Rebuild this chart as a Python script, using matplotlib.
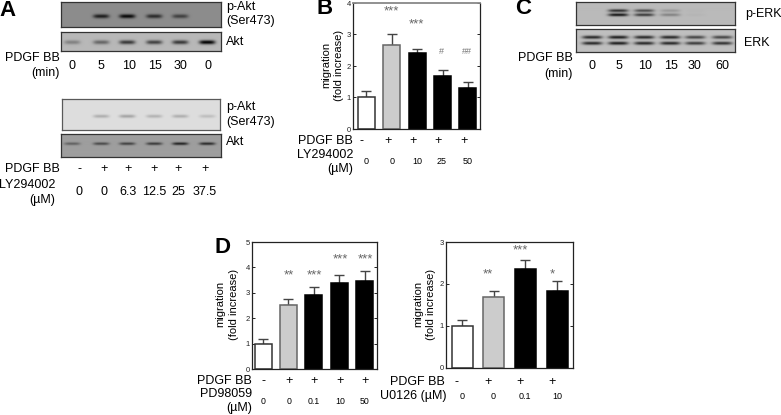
import numpy as np
import matplotlib
matplotlib.use("Agg")
import matplotlib.pyplot as plt

plt.rcParams['font.family'] = ['Liberation Sans', 'DejaVu Sans']

W, H = 781, 415

# ---- bar data ----
b_means = [1.0, 2.67, 2.42, 1.69, 1.30]
b_errs = [0.20, 0.35, 0.13, 0.17, 0.20]
b_ticks = [0, 1, 2, 3, 4]
b_signs = ['-', '+', '+', '+', '+']
b_doses = ['0', '0', '10', '25', '50']
b_stars = ['', '***', '***', '#', '##']

d1_means = [1.0, 2.52, 2.93, 3.40, 3.46]
d1_errs = [0.17, 0.23, 0.30, 0.30, 0.39]
d1_ticks = [0, 1, 2, 3, 4, 5]
d1_signs = ['-', '+', '+', '+', '+']
d1_doses = ['0', '0', '0.1', '10', '50']
d1_stars = ['', '**', '***', '***', '***']

d2_means = [1.0, 1.68, 2.36, 1.83]
d2_errs = [0.14, 0.16, 0.22, 0.23]
d2_ticks = [0, 1, 2, 3]
d2_signs = ['-', '+', '+', '+']
d2_doses = ['0', '0', '0.1', '10']
d2_stars = ['', '**', '***', '*']

# ---- blot band strengths, one per lane ----
akt_time_p = [0.0, 0.8, 0.95, 0.7, 0.55, 0.0]
akt_time_total = [0.3, 0.45, 0.7, 0.65, 0.7, 1.0]
akt_dose_p = [0.0, 0.22, 0.27, 0.2, 0.22, 0.15]
akt_dose_total = [0.4, 0.55, 0.6, 0.65, 0.8, 0.75]
erk_p_upper = [0.0, 0.75, 0.6, 0.18, 0.02, 0.0]
erk_p_lower = [0.0, 0.9, 0.7, 0.3, 0.03, 0.0]
erk_upper = [0.8, 0.85, 0.8, 0.8, 0.65, 0.65]
erk_lower = [0.8, 0.85, 0.8, 0.8, 0.7, 0.75]

time_labels = ['0', '5', '10', '15', '30', '0']
dose_signs = ['-', '+', '+', '+', '+', '+']
dose_labels = ['0', '0', '6.3', '12.5', '25', '37.5']
erk_labels = ['0', '5', '10', '15', '30', '60']

fig = plt.figure(figsize=(W / 100, H / 100), dpi=100, facecolor='white')


def box(x0, y0, x1, y1):
    return fig.add_axes([x0 / W, 1 - y1 / H, (x1 - x0) / W, (y1 - y0) / H])


def label(x, y, s, size=9.0, ha='center', **kw):
    fig.text(x / W, 1 - y / H, s, fontsize=size, ha=ha, va='center', **kw)


def stars(x, y, s):
    # asterisks sit high in the glyph box, hashes do not
    if '#' in s:
        label(x, y, s, size=6.5, color='#777777')
    else:
        label(x, y + 2, s, size=9.5, color='#666666')


def blot(x0, y0, x1, y1, lanes, rows, bg, edge=0.2, band_w=8.0, band_h=2.0):
    # rows is a list of (y pixel, strengths)
    ax = box(x0, y0, x1, y1)
    xs, ys = np.meshgrid(np.arange(x0, x1, 0.5), np.arange(y0, y1, 0.5))
    img = np.full(xs.shape, float(bg))
    for row_y, strengths in rows:
        for lane, s in zip(lanes, strengths):
            shape = np.exp(-((xs - lane) / band_w) ** 4 - ((ys - row_y) / band_h) ** 2)
            img -= s * bg * shape
    ax.imshow(np.clip(img, 0, 1), cmap='gray', vmin=0, vmax=1, aspect='auto',
              extent=[x0, x1, y1, y0], interpolation='bilinear')
    ax.set_xticks([])
    ax.set_yticks([])
    for sp in ax.spines.values():
        sp.set_color(str(edge))
        sp.set_linewidth(0.9)


def bars(x0, y0, x1, y1, means, errs, ticks, first, step, width):
    ax = box(x0, y0, x1, y1)
    xpos = np.arange(len(means))
    colors = ['white', '#cccccc'] + ['black'] * (len(means) - 2)
    edges = ['#333333', '#666666'] + ['black'] * (len(means) - 2)
    ax.bar(xpos, means, width=width / step, color=colors, edgecolor=edges, linewidth=1.1, zorder=2)
    ax.errorbar(xpos, means, yerr=[[0] * len(errs), errs], fmt='none', ecolor='#444444',
                elinewidth=1.0, capsize=3.6, capthick=1.0, zorder=1)
    ax.set_xlim((x0 - first) / step, (x1 - first) / step)
    ax.set_ylim(ticks[0], ticks[-1])
    ax.set_xticks([])
    ax.set_yticks(ticks)
    ax.tick_params(axis='y', direction='in', length=2, width=0.7, labelsize=5.5, pad=1.5,
                   right=True, colors='#222222')
    for sp in ax.spines.values():
        sp.set_linewidth(0.9)
        sp.set_color('#222222')
    return ax


# ---- panel A ----
label(8, 10, 'A', size=16, weight='bold')
lanes_a = [72, 101, 127, 154, 180, 207]
blot(61, 2, 221, 27, lanes_a, [(16, akt_time_p)], 0.55)
blot(61, 32, 221, 51, lanes_a, [(42, akt_time_total)], 0.72)
blot(62, 99, 220, 130, lanes_a, [(116, akt_dose_p)], 0.87, edge=0.35, band_h=1.6)
blot(61, 134, 221, 157, lanes_a, [(144, akt_dose_total)], 0.62, band_h=1.3)

label(226, 7, 'p-Akt', ha='left')
label(226, 21, '(Ser473)', ha='left')
label(226, 42, 'Akt', ha='left')
label(60, 58, 'PDGF BB', ha='right')
label(60, 73, '(min)', ha='right')
for x, s in zip([72, 101, 129, 155, 180, 208], time_labels):
    label(x, 66, s)

label(226, 107, 'p-Akt', ha='left')
label(226, 122, '(Ser473)', ha='left')
label(226, 142, 'Akt', ha='left')
label(60, 169, 'PDGF BB', ha='right')
label(55, 185, 'LY294002', ha='right')
label(55, 200, '(µM)', ha='right')
dose_x = [79, 104, 128, 154, 178, 205]
for x, s, d in zip(dose_x, dose_signs, dose_labels):
    label(x, 169, s)
    label(x, 192, d)

# ---- panel B ----
label(325, 9, 'B', size=16, weight='bold')
ax_b = bars(353, 3, 480, 129, b_means, b_errs, b_ticks, 366, 25.5, 17)
ax_b.spines['top'].set_color('#888888')
ax_b.spines['top'].set_linewidth(1.3)
label(326, 65, 'migration', size=8, rotation=90)
label(339, 65, '(fold increase)', size=8, rotation=90)
label(353, 141, 'PDGF BB', ha='right')
label(353, 155, 'LY294002', ha='right')
label(353, 169, '(µM)', ha='right')
b_x = [366, 392, 417, 442, 468]
b_star_y = [0, 9, 22, 51, 51]
for x, sign, dose, star, sy in zip(b_x, b_signs, b_doses, b_stars, b_star_y):
    label(x - 4, 141, sign)
    label(x, 161, dose, size=6.5)
    if star:
        stars(x - 1, sy, star)

# ---- panel C ----
label(523, 9, 'C', size=16, weight='bold')
lanes_c = [592, 618, 644, 670, 695, 722]
blot(576, 2, 735, 25, lanes_c, [(11, erk_p_upper), (15, erk_p_lower)], 0.73, band_w=10, band_h=1.4)
blot(576, 29, 735, 52, lanes_c, [(37, erk_upper), (43, erk_lower)], 0.75, band_w=10, band_h=1.6)
label(745, 14, 'p-ERK', ha='left')
label(744, 43, 'ERK', ha='left')
label(573, 58, 'PDGF BB', ha='right')
label(573, 74, '(min)', ha='right')
for x, s in zip([592, 619, 645, 671, 695, 722], erk_labels):
    label(x, 66, s)

# ---- panel D ----
label(222, 247, 'D', size=16, weight='bold')
bars(252, 242, 377, 369, d1_means, d1_errs, d1_ticks, 263, 25.4, 17)
label(220, 304, 'migration', size=8, rotation=90)
label(234, 304, '(fold increase)', size=8, rotation=90)
label(252, 381, 'PDGF BB', ha='right')
label(252, 394, 'PD98059', ha='right')
label(252, 408, '(µM)', ha='right')
d1_x = [263, 289, 314, 340, 365]
d1_star_y = [0, 273, 273, 257, 257]
for x, sign, dose, star, sy in zip(d1_x, d1_signs, d1_doses, d1_stars, d1_star_y):
    label(x, 381, sign)
    label(x, 401, dose, size=6.3)
    if star:
        stars(x, sy, star)

bars(446, 242, 573, 368, d2_means, d2_errs, d2_ticks, 462, 31.7, 21)
label(418, 304, 'migration', size=8, rotation=90)
label(431, 304, '(fold increase)', size=8, rotation=90)
label(445, 382, 'PDGF BB', ha='right')
label(446, 396, 'U0126 (µM)', ha='right')
d2_x = [462, 493, 525, 557]
d2_star_y = [0, 272, 248, 272]
for x, sign, dose, star, sy in zip(d2_x, d2_signs, d2_doses, d2_stars, d2_star_y):
    label(x - 5, 382, sign)
    label(x, 396, dose, size=6.5)
    if star:
        stars(x - 5, sy, star)

fig.savefig('out.png', dpi=100)
